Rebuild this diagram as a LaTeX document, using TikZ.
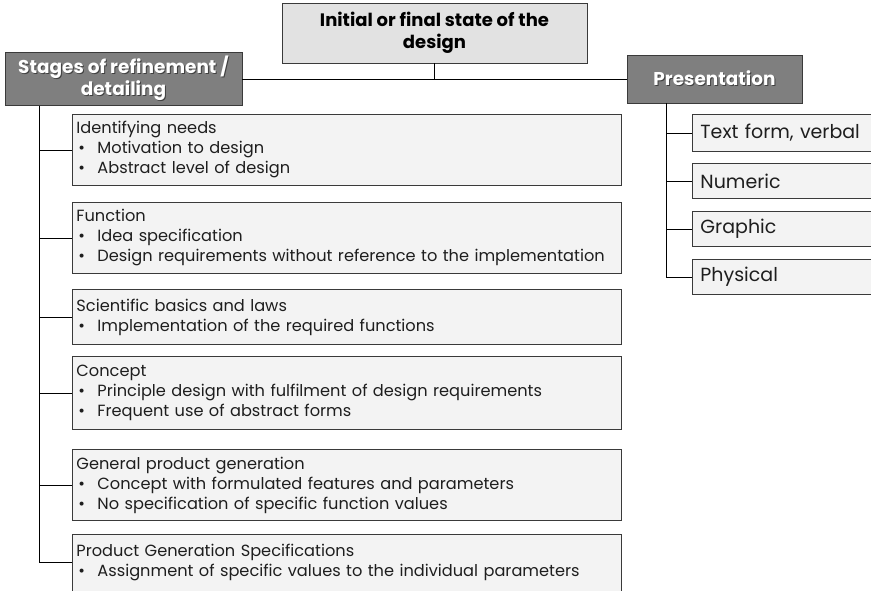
\documentclass[tikz,border=0pt]{standalone}
\usepackage{fontspec}
\setmainfont{Poppins}
\usetikzlibrary{calc}
\definecolor{boxline}{HTML}{3A3A3A}
\definecolor{stagefill}{HTML}{F3F3F3}
\definecolor{headfill}{HTML}{E2E2E2}
\definecolor{darkfill}{HTML}{7F7F7F}
\definecolor{txt}{HTML}{1E1E1E}
% white heading text with a dark drop shadow
\newcommand{\shtext}[1]{\leavevmode\rlap{\kern1pt\raisebox{-1pt}{\color{black!75}#1}}\textcolor{white}{#1}}
\tikzset{
  stagebox/.style={draw=boxline, line width=0.9pt, fill=stagefill, anchor=north west,
    minimum width=549pt, text width=541pt, align=left, inner xsep=4pt, inner ysep=0pt,
    text=txt, font=\fontsize{16.2}{20}\selectfont},
  formbox/.style={draw=boxline, line width=0.9pt, fill=stagefill, anchor=north west,
    minimum width=200pt, text width=184pt, align=left, inner xsep=8pt, inner ysep=0pt,
    minimum height=36pt, text=txt, font=\fontsize{19}{22}\selectfont},
  headbox/.style={draw=boxline, line width=0.9pt, fill=headfill, align=center,
    font=\bfseries\fontsize{18}{22}\selectfont, text=black},
  darkbox/.style={draw=boxline, line width=0.9pt, fill=darkfill, align=center,
    font=\bfseries\fontsize{18.5}{22}\selectfont},
  link/.style={draw=black, line width=0.8pt}
}
\newcommand{\bl}{\makebox[21pt][l]{\kern2pt\textbullet}}
\begin{document}
\begin{tikzpicture}[x=1pt, y=-1pt]
\useasboundingbox (0,0) rectangle (871,591);

% headings
\node[headbox, minimum width=305pt, minimum height=60pt] (state) at (434.5,33)
  {Initial or final state of the\\design};
\node[darkbox, minimum width=237pt, minimum height=50pt] (stages) at (123.5,79)
  {\shtext{Stages of refinement /}\\\shtext{detailing}};
\node[darkbox, minimum width=175pt, minimum height=48pt] (pres) at (714.5,79)
  {\shtext{Presentation}};

% stages of refinement
\node[stagebox, minimum height=71pt] (s1) at (72,114)
  {Identifying needs\\\bl Motivation to design\\\bl Abstract level of design};
\node[stagebox, minimum height=71pt] (s2) at (72,202)
  {Function\\\bl Idea specification\\\bl Design requirements without reference to the implementation};
\node[stagebox, minimum height=55pt] (s3) at (72,289)
  {Scientific basics and laws\\\bl Implementation of the required functions};
\node[stagebox, minimum height=73pt] (s4) at (72,356)
  {Concept\\\bl Principle design with fulfilment of design requirements\\\bl Frequent use of abstract forms};
\node[stagebox, minimum height=71pt] (s5) at (72,449)
  {General product generation\\\bl Concept with formulated features and parameters\\\bl No specification of specific function values};
\node[stagebox, minimum height=56.5pt] (s6) at (72,534)
  {Product Generation Specifications\\\bl Assignment of specific values to the individual parameters};

% forms of presentation
\node[formbox, minimum height=37pt] (p1) at (692,114) {Text form, verbal};
\node[formbox, minimum height=35pt] (p2) at (692,163) {Numeric};
\node[formbox, minimum height=35pt] (p3) at (692,211) {Graphic};
\node[formbox, minimum height=35pt] (p4) at (692,259) {Physical};

% connectors
\coordinate (ltrunk) at ($(stages.south west)+(35,0)$);
\coordinate (rtrunk) at ($(pres.south west)+(40,0)$);
\draw[link] (state.south) -- (state.south |- stages.east);
\draw[link] (stages.east) -- (pres.west);
\draw[link] (ltrunk) |- (s6.west);
\foreach \n in {s1,s2,s3,s4,s5} \draw[link] (ltrunk |- \n.west) -- (\n.west);
\draw[link] (rtrunk) |- (p4.west);
\foreach \n in {p1,p2,p3} \draw[link] (rtrunk |- \n.west) -- (\n.west);
\end{tikzpicture}
\end{document}
